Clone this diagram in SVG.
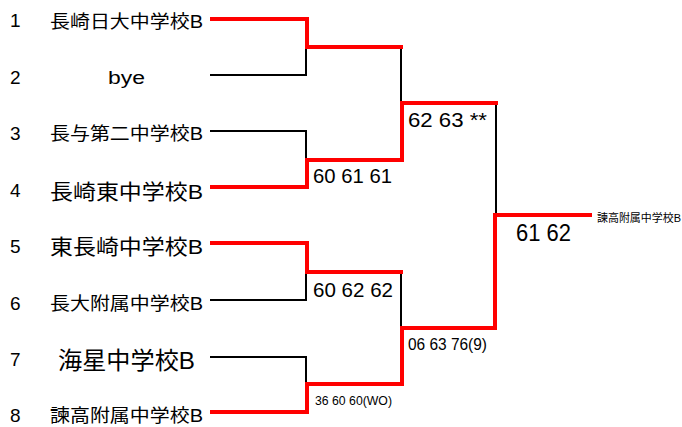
<svg xmlns="http://www.w3.org/2000/svg" width="682" height="427" viewBox="0 0 682 427">
<style>
text{font-family:"Liberation Sans","Noto Sans CJK JP",sans-serif;fill:#000}
.n{font-size:19px}
.r{fill:none;stroke:#ff0000;stroke-width:4;stroke-linecap:square}
.b{fill:none;stroke:#000;stroke-width:2}
</style>
<rect width="682" height="427" fill="#fff"/>
<g id="connectors">
<path class="b" d="M210 75H306V47"/>
<path class="b" d="M210 131H306V160"/>
<path class="b" d="M401 47V103"/>
<path class="b" d="M210 300H306V272"/>
<path class="b" d="M210 357H306V384"/>
<path class="b" d="M401 272V328"/>
<path class="b" d="M496 103V215"/>
<path class="r" d="M212 19H307V47H401"/>
<path class="r" d="M212 187H307V160H402V103H496"/>
<path class="r" d="M212 243H307V272H401"/>
<path class="r" d="M212 412H307V384H402V328H495V215H590"/>
</g>
<g id="seed1"><text class="n" x="10" y="27">1</text><text x="50" y="28" font-size="18" textLength="153" lengthAdjust="spacingAndGlyphs">長崎日大中学校B</text></g>
<g id="seed2"><text class="n" x="10" y="84">2</text><text x="108" y="84" font-size="18" textLength="37" lengthAdjust="spacingAndGlyphs">bye</text></g>
<g id="seed3"><text class="n" x="10" y="140">3</text><text x="50" y="140" font-size="18" textLength="153" lengthAdjust="spacingAndGlyphs">長与第二中学校B</text></g>
<g id="seed4"><text class="n" x="10" y="197">4</text><text x="50" y="199" font-size="21" textLength="153" lengthAdjust="spacingAndGlyphs">長崎東中学校B</text></g>
<g id="seed5"><text class="n" x="10" y="253">5</text><text x="50" y="254" font-size="21" textLength="153" lengthAdjust="spacingAndGlyphs">東長崎中学校B</text></g>
<g id="seed6"><text class="n" x="10" y="310">6</text><text x="50" y="310" font-size="18" textLength="153" lengthAdjust="spacingAndGlyphs">長大附属中学校B</text></g>
<g id="seed7"><text class="n" x="10" y="366">7</text><text x="58" y="369" font-size="24" textLength="137" lengthAdjust="spacingAndGlyphs">海星中学校B</text></g>
<g id="seed8"><text class="n" x="10" y="422">8</text><text x="50" y="422" font-size="18" textLength="153" lengthAdjust="spacingAndGlyphs">諫高附属中学校B</text></g>
<g id="scores">
<text x="313" y="183" font-size="20" textLength="79" lengthAdjust="spacingAndGlyphs">60 61 61</text>
<text x="408" y="127" font-size="20" textLength="79" lengthAdjust="spacingAndGlyphs">62 63 **</text>
<text x="313" y="297" font-size="20" textLength="80" lengthAdjust="spacingAndGlyphs">60 62 62</text>
<text x="408" y="350" font-size="16" textLength="79" lengthAdjust="spacingAndGlyphs">06 63 76(9)</text>
<text x="315" y="405" font-size="13" textLength="77" lengthAdjust="spacingAndGlyphs">36 60 60(WO)</text>
<text x="516" y="241" font-size="23" textLength="55" lengthAdjust="spacingAndGlyphs">61 62</text>
</g>
<g id="champion"><text x="597" y="222" font-size="11" textLength="84" lengthAdjust="spacingAndGlyphs">諫高附属中学校B</text></g>
</svg>
